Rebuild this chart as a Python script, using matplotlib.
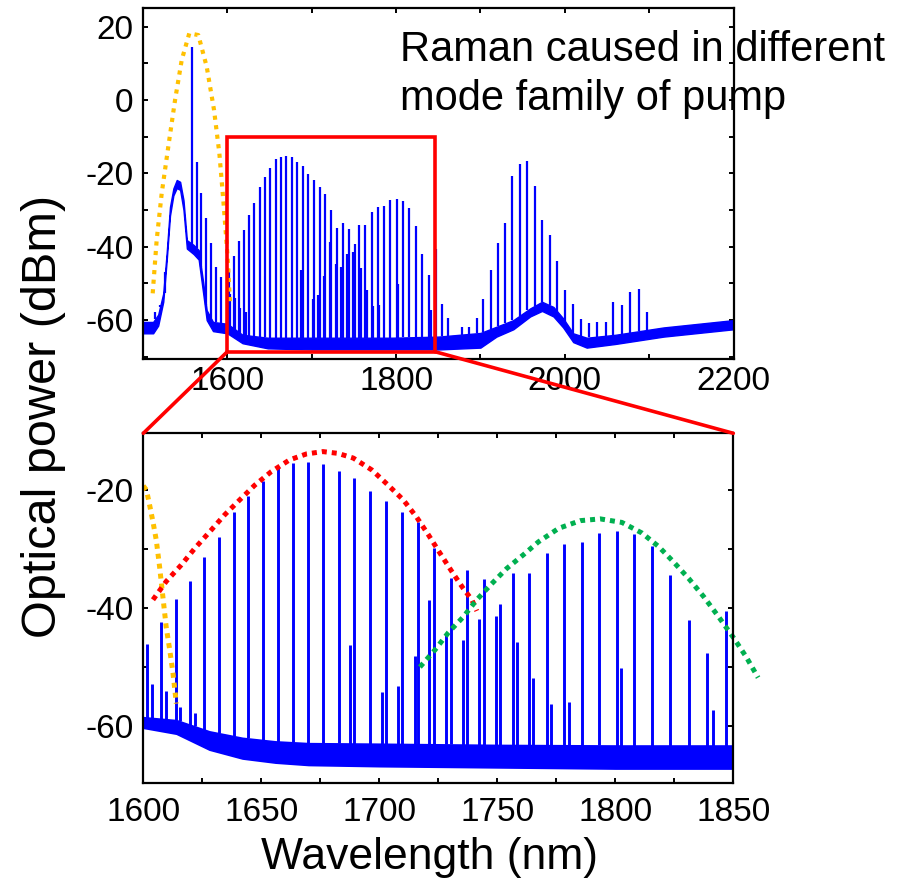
import numpy as np
import matplotlib
matplotlib.use('Agg')
import matplotlib.pyplot as plt
from matplotlib.patches import Rectangle, ConnectionPatch
from matplotlib.ticker import MultipleLocator

plt.rcParams['font.family'] = ['Liberation Sans', 'DejaVu Sans']
plt.rcParams['axes.unicode_minus'] = False

# ---------------- data ----------------
# pump region lines (top panel)
pump_wl = [1514.2, 1520.2, 1526.1, 1557.7, 1563.7, 1568.8, 1574.7, 1580.3, 1586.6, 1592.1]
pump_pk = [-57.7, -55.9, -52.7, 14.5, -16.8, -25.4, -32.3, -39.1, -45.4, -48.2]

# Raman comb lines 1600-1850 nm (both panels)
comb_wl = [1601.7, 1603.7, 1607.5, 1609.5, 1613.7, 1615.4, 1619.8, 1621.8, 1625.8, 1632.1,
           1638.4, 1644.4, 1650.7, 1657.1, 1663.6, 1669.9, 1676.1, 1683.1, 1687.6, 1689.4,
           1696.1, 1701.0, 1702.8, 1708.0, 1709.7, 1715.1, 1716.3, 1721.2, 1723.2, 1728.3,
           1730.3, 1735.3, 1737.0, 1742.4, 1744.4, 1749.4, 1751.1, 1756.5, 1758.2, 1763.6,
           1765.3, 1770.9, 1772.7, 1778.3, 1780.2, 1785.8, 1793.2, 1800.6, 1802.4, 1808.1,
           1815.7, 1823.2, 1831.2, 1838.7, 1841.3, 1846.8]
comb_pk = [-46.1, -52.9, -42.4, -54.0, -38.5, -56.7, -35.5, -57.8, -31.3, -28.0,
           -23.8, -21.1, -18.5, -16.2, -15.4, -15.2, -15.6, -16.8, -46.3, -18.0,
           -20.2, -54.2, -21.9, -53.2, -23.8, -48.1, -25.5, -38.6, -29.9, -44.6,
           -35.0, -45.4, -33.6, -41.9, -35.1, -41.4, -39.3, -34.1, -45.7, -34.0,
           -51.9, -30.6, -56.2, -29.2, -55.9, -28.9, -27.3, -26.9, -50.2, -27.5,
           -29.5, -34.4, -42.0, -47.6, -57.2, -40.5]

# lines beyond 1850 nm (top panel)
ir_wl = [1854.9, 1862.0, 1878.6, 1887.0, 1895.7, 1903.5, 1912.3, 1920.6, 1928.9, 1937.9,
         1946.7, 1955.7, 1964.8, 1973.5, 1982.6, 1991.3, 2000.8, 2010.3, 2019.4, 2029.2,
         2038.7, 2048.7, 2057.7, 2067.6, 2077.5, 2088.2, 2098.0]
ir_pk = [-55.7, -59.4, -62.0, -61.8, -59.4, -54.3, -46.4, -38.9, -33.6, -20.6,
         -17.5, -16.6, -23.4, -32.7, -36.9, -43.9, -51.9, -55.6, -59.8, -60.7,
         -60.4, -60.4, -55.0, -55.9, -52.3, -51.6, -57.7]

# background / noise floor of the full spectrum (upper and lower edge)
top_floor_wl = [1500, 1512, 1518, 1524, 1528, 1532, 1536, 1540, 1544, 1548, 1552, 1560, 1566,
                1571.5, 1575.5, 1583, 1600, 1618, 1648, 1700, 1795, 1850, 1900, 1919, 1939,
                1959, 1973, 1986.5, 1998, 2010, 2026, 2060, 2117, 2200]
top_floor_hi = [-60.5, -60.5, -58.5, -52.7, -41.8, -29.1, -24.1, -21.8, -22.3, -27.3, -38.2, -39.5, -40.9,
                -50, -57.3, -60.5, -61.0, -64.0, -64.8, -64.8, -64.8, -64.5, -63.5, -61.8, -60,
                -56.8, -55, -56.4, -59.5, -63.6, -64.8, -64.0, -62.0, -60.0]
top_floor_lo = [-63.6, -63.6, -61.5, -55, -44, -31.5, -26, -24, -24.5, -30, -40.5, -42, -43.5,
                -53, -60, -63, -63.6, -66.3, -67.7, -68, -68, -68, -67.5, -64.5, -62.5,
                -59.0, -57.5, -59.0, -62.0, -66.0, -67.5, -66.5, -64.5, -62.5]

# noise floor of the zoomed panel
zoom_floor_wl = [1600, 1614, 1628, 1642, 1656, 1670, 1700, 1750, 1800, 1850]
zoom_floor_hi = [-58.5, -59.0, -60.9, -62.0, -62.6, -62.9, -63.0, -63.2, -63.3, -63.3]
zoom_floor_lo = [-60.3, -61.3, -64.0, -65.5, -66.2, -66.6, -66.8, -67.0, -67.2, -67.2]

# dotted envelopes
pump_env_wl = [1511.5, 1516.2, 1522.2, 1530, 1538, 1545.9, 1554.9, 1565.6, 1575.5, 1584.2,
               1590.5, 1595.2, 1600, 1603.2]
pump_env_db = [-52.7, -38.2, -25.4, -12.7, 0.0, 10.9, 18.2, 17.7, 9.1, -2.7,
               -14.5, -27.3, -41.8, -55.4]

tail_env_wl = [1600.0, 1601.3, 1602.4, 1604.1, 1605.5, 1606.9, 1608.3, 1609.7, 1611.2, 1612.6, 1614.0]
tail_env_db = [-19.3, -20.0, -22.0, -25.4, -28.5, -33.0, -38.1, -43.2, -47.1, -51.1, -56.2]

red_env_wl = [1604.1, 1609.7, 1616.1, 1621.8, 1628.1, 1634.5, 1640.8, 1647.2, 1654.2, 1662.0,
              1669.1, 1676.1, 1682.5, 1689.0, 1696.8, 1703.8, 1710.2, 1715.8, 1720.8, 1725.7,
              1730.7, 1735.6, 1739.2, 1741.3]
red_env_db = [-38.6, -35.5, -32.7, -29.9, -27.1, -24.2, -21.7, -19.2, -16.9, -14.9,
              -13.9, -13.5, -13.8, -14.6, -16.6, -19.2, -21.7, -24.6, -27.6, -30.7,
              -33.8, -36.7, -38.6, -40.5]

green_env_wl = [1717.2, 1723.6, 1729.2, 1735.6, 1741.3, 1747.6, 1754.0, 1761.0, 1767.4, 1776.0,
                1785.2, 1793.6, 1802.8, 1811.3, 1818.4, 1824.7, 1831.1, 1837.5, 1843.8, 1850.2,
                1855.5, 1860.5]
green_env_db = [-50.0, -47.1, -44.2, -41.5, -38.6, -35.9, -33.3, -31.0, -28.8, -26.5,
                -25.2, -24.9, -25.5, -27.3, -29.6, -32.2, -35.0, -38.1, -41.5, -45.1,
                -48.3, -51.8]

# ---------------- styling ----------------
BLUE = '#0000FF'
ORANGE = '#FFC000'
RED = '#FF0000'
GREEN = '#00B050'

fig = plt.figure(figsize=(9.13, 8.82), dpi=100)
ax1 = fig.add_axes([143 / 913, 1 - 359 / 882, (733.5 - 143) / 913, (359 - 8.3) / 882])
ax2 = fig.add_axes([143.3 / 913, 1 - 783.3 / 882, (733.3 - 143.3) / 913, (783.3 - 433.3) / 882])


def draw_floor(ax, wl, hi, lo, lw):
    ax.fill_between(wl, lo, hi, color=BLUE, lw=lw, edgecolor=BLUE, zorder=2)


def draw_lines(ax, wl, pk, fwl, fhi, lw):
    base = np.interp(wl, fwl, fhi)
    ax.vlines(wl, base, pk, color=BLUE, lw=lw, zorder=2)


# top panel
draw_floor(ax1, top_floor_wl, top_floor_hi, top_floor_lo, 1.0)
for wl, pk in ((pump_wl, pump_pk), (comb_wl, comb_pk), (ir_wl, ir_pk)):
    draw_lines(ax1, wl, pk, top_floor_wl, top_floor_hi, 1.6)
ax1.plot(pump_env_wl, pump_env_db, color=ORANGE, lw=3.0, ls=(0, (1, 1.3)),
         dash_capstyle='butt', zorder=3)
ax1.set_xlim(1500, 2200)
ax1.set_ylim(-70.6, 25)
ax1.xaxis.set_major_locator(MultipleLocator(200))
ax1.xaxis.set_minor_locator(MultipleLocator(100))
ax1.yaxis.set_major_locator(MultipleLocator(20))
ax1.yaxis.set_minor_locator(MultipleLocator(10))

# bottom panel
draw_floor(ax2, zoom_floor_wl, zoom_floor_hi, zoom_floor_lo, 1.2)
draw_lines(ax2, comb_wl, comb_pk, zoom_floor_wl, zoom_floor_hi, 2.1)
dot = dict(lw=3.6, ls=(0, (1, 1)), dash_capstyle='butt', zorder=3)
ax2.plot(tail_env_wl, tail_env_db, color=ORANGE, **dot)
ax2.plot(red_env_wl, red_env_db, color=RED, **dot)
ax2.plot(green_env_wl, green_env_db, color=GREEN, clip_on=False, **dot)
ax2.set_xlim(1600, 1850)
ax2.set_ylim(-69.7, -10.4)
ax2.xaxis.set_major_locator(MultipleLocator(50))
ax2.xaxis.set_minor_locator(MultipleLocator(25))
ax2.yaxis.set_major_locator(MultipleLocator(20))
ax2.yaxis.set_minor_locator(MultipleLocator(10))

for ax in (ax1, ax2):
    for s in ax.spines.values():
        s.set_linewidth(1.6)
        s.set_zorder(4)
    ax.tick_params(which='both', direction='in', top=True, right=True,
                   length=3.8, width=1.4, labelsize=24)
    ax.tick_params(axis='y', pad=7)
ax1.tick_params(axis='x', pad=5)
ax2.tick_params(axis='x', pad=10)

# zoom box and connectors
ax1.add_patch(Rectangle((1600, -68.6), 246, 58.6, fill=False, ec=RED, lw=2.6, zorder=5))
for xa, xb in ((1600, 0), (1846, 1)):
    con = ConnectionPatch(xyA=(xa, -68.6), coordsA=ax1.transData,
                          xyB=(xb, 1), coordsB=ax2.transAxes, color=RED, lw=2.6, zorder=5)
    fig.add_artist(con)

ax1.text(400 / 913, 1 - 30 / 882, 'Raman caused in different\nmode family of pump',
         transform=fig.transFigure, fontsize=30, ha='left', va='top', zorder=2,
         clip_on=False, linespacing=1.3)

fig.text(43 / 913, 1 - 416 / 882, 'Optical power (dBm)', rotation=90, fontsize=35,
         ha='center', va='center')
fig.text(429 / 913, 1 - 858 / 882, 'Wavelength (nm)', fontsize=32, ha='center', va='center')

fig.savefig('out.png', dpi=100)
